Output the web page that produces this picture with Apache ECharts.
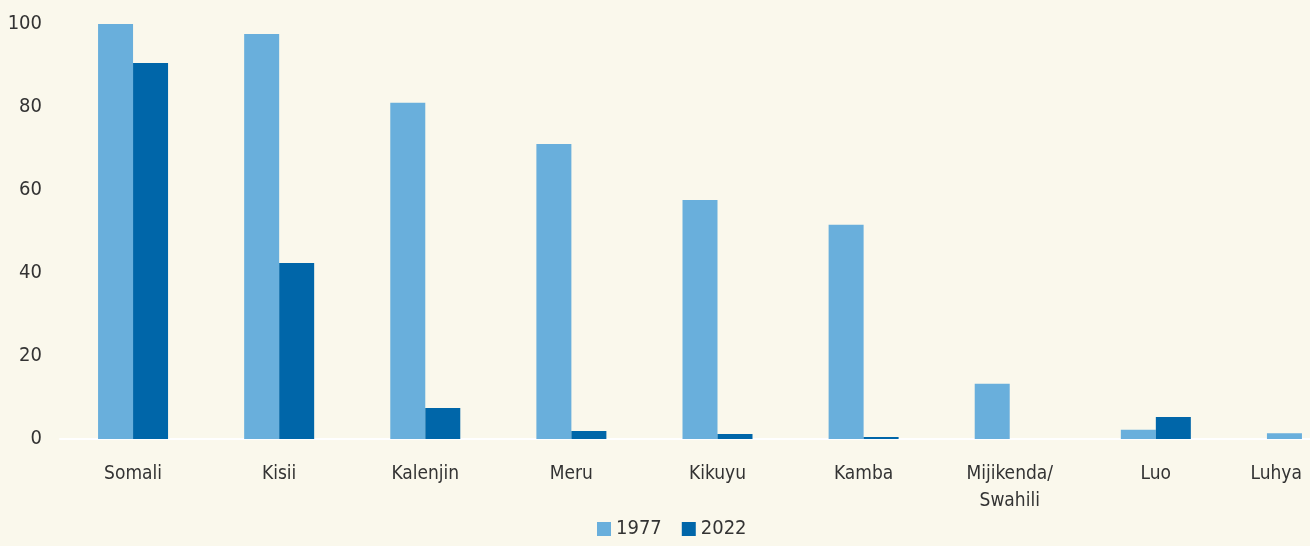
<!DOCTYPE html>
<html>
<head>
<meta charset="utf-8">
<script src="https://cdn.jsdelivr.net/npm/echarts@6/dist/echarts.min.js"></script>
<style>
  html, body { margin: 0; padding: 0; background: #faf8ec; }
  #chart { width: 1310px; height: 546px; }
</style>
</head>
<body>
<div id="chart"></div>
<script>
const groups = ['Somali', 'Kisii', 'Kalenjin', 'Meru', 'Kikuyu', 'Kamba', 'Mijikenda/\nSwahili', 'Luo', 'Luhya'];
const share1977 = [100, 97.6, 81, 71.1, 57.6, 51.6, 13.3, 2.2, 1.4];
const share2022 = [90.6, 42.4, 7.5, 1.9, 1.2, 0.5, 0, 5.3, 0];

const font = '"DejaVu Sans Condensed", sans-serif';

const chart = echarts.init(document.getElementById('chart'));

chart.setOption({
    backgroundColor: '#faf8ec',
    animation: false,
    // plot runs past the right edge, as in the source (Luhya is cut off)
    grid: { left: 60, width: 1315, top: 24, bottom: 107, outerBoundsMode: 'none', containLabel: false },
    legend: {
        bottom: 2,
        left: 592,
        itemWidth: 14,
        itemHeight: 14,
        itemGap: 20,
        icon: 'rect',
        textStyle: { fontFamily: font, fontSize: 20, color: '#333' },
        data: ['1977', '2022']
    },
    xAxis: {
        type: 'category',
        data: groups,
        axisLine: { lineStyle: { color: '#ffffff', width: 2 } },
        axisTick: { show: false },
        axisLabel: {
            fontFamily: font, fontSize: 19, color: '#333',
            margin: 22, lineHeight: 27, interval: 0,
            alignMaxLabel: 'right'
        }
    },
    yAxis: {
        type: 'value',
        min: 0, max: 100, interval: 20,
        splitLine: { show: false },
        axisLine: { show: false },
        axisTick: { show: false },
        axisLabel: { fontFamily: font, fontSize: 20, color: '#333', margin: 18 }
    },
    series: [
        {
            name: '1977', type: 'bar', data: share1977,
            barWidth: 35, barGap: '0%',
            itemStyle: { color: '#69afdc' }
        },
        {
            name: '2022', type: 'bar', data: share2022,
            barWidth: 35,
            itemStyle: { color: '#0066a9' }
        }
    ]
});
</script>
</body>
</html>
